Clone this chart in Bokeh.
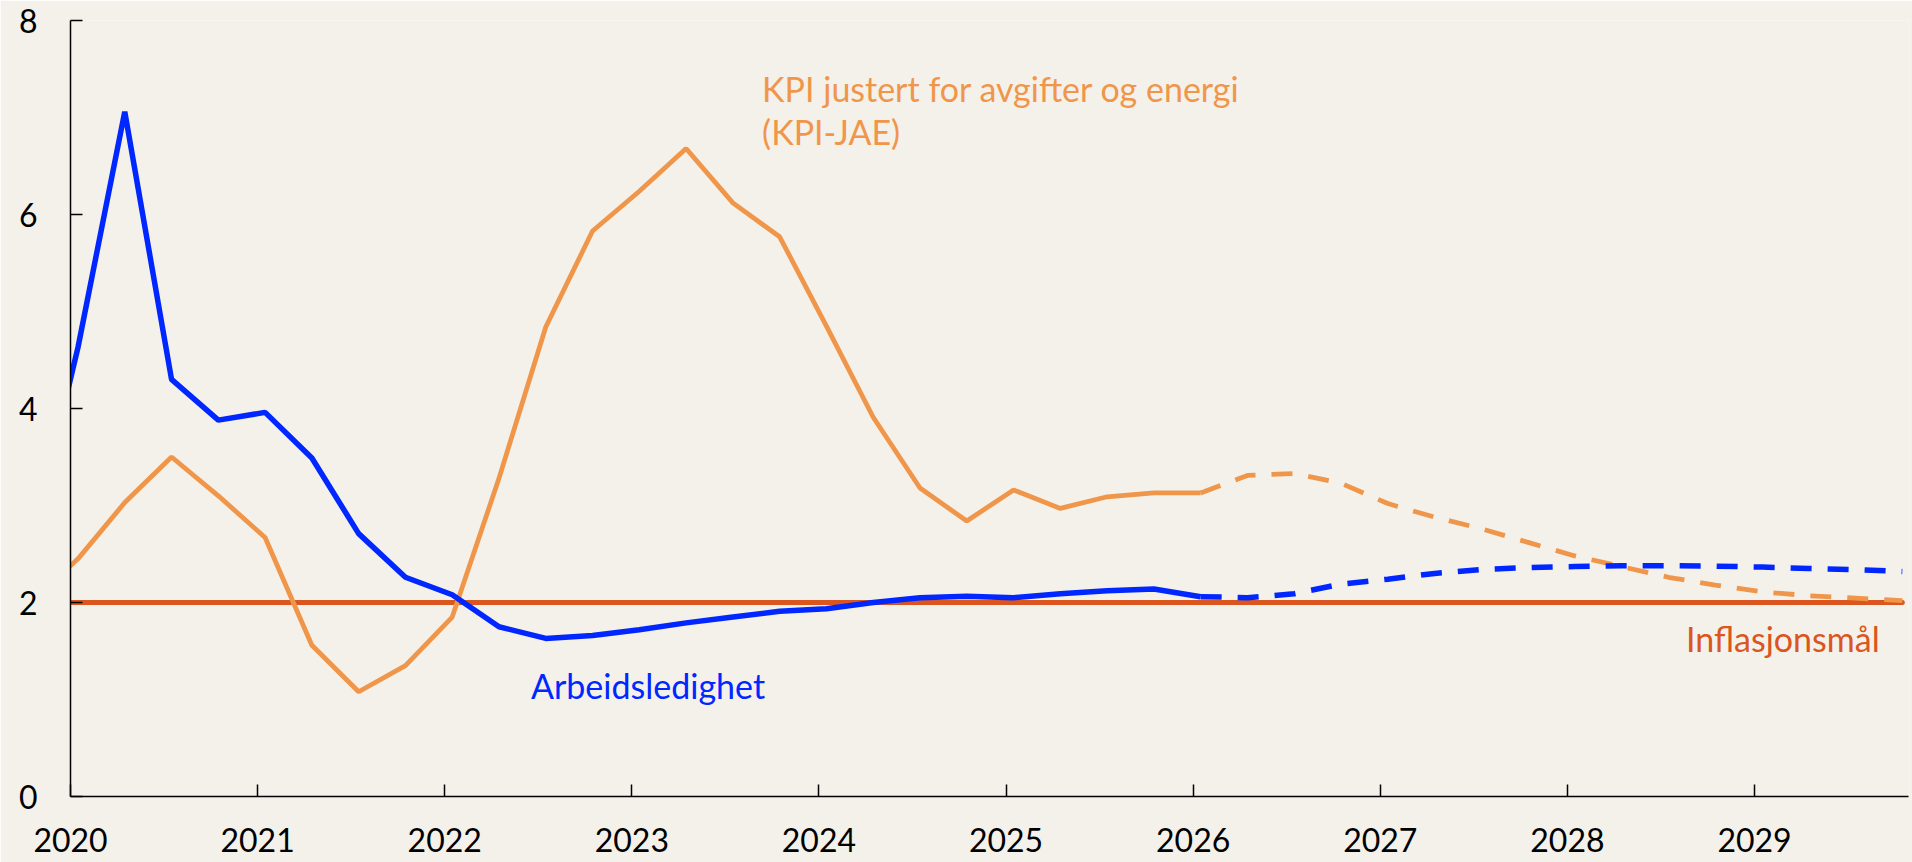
from bokeh.plotting import figure
from bokeh.models import FixedTicker, Label, Range1d, NumeralTickFormatter
from bokeh.embed import file_html
from bokeh.resources import INLINE

# ---------------- data ----------------
quarters = [f"{y}Q{q}" for y in range(2019, 2030) for q in (1, 2, 3, 4)][3:]  # 2019Q4 .. 2029Q4

unemployment = [2.60, 4.63, 7.06, 4.30, 3.88, 3.96, 3.49, 2.71, 2.26, 2.08,
                1.75, 1.63, 1.66, 1.72, 1.79, 1.85, 1.91, 1.935, 2.00, 2.05,
                2.065, 2.05, 2.09, 2.12, 2.14, 2.06, 2.05, 2.09, 2.19, 2.24,
                2.30, 2.34, 2.36, 2.37, 2.38, 2.38, 2.375, 2.365, 2.35, 2.34,
                2.32]

kpi_jae = [2.00, 2.45, 3.03, 3.50, 3.10, 2.67, 1.56, 1.08, 1.35, 1.85,
           3.28, 4.84, 5.83, 6.24, 6.68, 6.12, 5.77, 4.85, 3.91, 3.18,
           2.84, 3.16, 2.97, 3.09, 3.13, 3.13, 3.31, 3.33, 3.23, 3.02,
           2.88, 2.76, 2.62, 2.48, 2.37, 2.26, 2.18, 2.11, 2.07, 2.045,
           2.02]

inflation_target = [2.0] * len(quarters)

last_actual = "2026Q1"
x_ticks = [2020, 2021, 2022, 2023, 2024, 2025, 2026, 2027, 2028, 2029]
y_ticks = [0, 2, 4, 6, 8]

label_kpi = ["KPI justert for avgifter og energi", "(KPI-JAE)"]
label_unemp = "Arbeidsledighet"
label_target = "Inflasjonsmål"

# ---------------- styling ----------------
BG = "#F4F1EA"
BLUE = "#0027FF"
ORANGE = "#F0964A"
RED = "#DA561E"
FONT = "Lato"
FS = "32px"
FS_ANN = "34px"


def qpos(q):
    return int(q[:4]) + (int(q[5]) - 1) / 4 + 0.04


xs = [qpos(q) for q in quarters]
k = quarters.index(last_actual)

p = figure(width=1912, height=862,
           x_range=Range1d(2020, 2029.823), y_range=Range1d(0, 8),
           output_backend="svg", toolbar_location=None,
           min_border_left=70, min_border_right=4,
           min_border_top=20, min_border_bottom=66)
p.background_fill_color = BG
p.border_fill_color = BG
p.outline_line_color = None
p.grid.visible = False

# inflation target
p.line(xs, inflation_target, line_color=RED, line_width=5, line_cap="round")

# KPI-JAE
p.line(xs[:k + 1], kpi_jae[:k + 1], line_color=ORANGE, line_width=4.8)
p.line(xs[k:], kpi_jae[k:], line_color=ORANGE, line_width=4.8, line_dash="21 16")

# Unemployment
p.line(xs[:k + 1], unemployment[:k + 1], line_color=BLUE, line_width=5.5)
p.line(xs[k:], unemployment[k:], line_color=BLUE, line_width=5.5, line_dash="21 16")

# axes
for ax in (p.xaxis[0], p.yaxis[0]):
    ax.axis_line_color = "black"
    ax.axis_line_width = 1.5
    ax.major_tick_line_color = "black"
    ax.major_tick_line_width = 1.5
    ax.major_tick_in = 12
    ax.major_tick_out = 0
    ax.minor_tick_in = 0
    ax.minor_tick_out = 0
    ax.major_label_text_font = FONT
    ax.major_label_text_font_size = FS
    ax.major_label_text_color = "black"

p.xaxis[0].ticker = FixedTicker(ticks=x_ticks)
p.xaxis[0].formatter = NumeralTickFormatter(format="0")
p.xaxis[0].major_label_standoff = 31
p.yaxis[0].ticker = FixedTicker(ticks=y_ticks)
p.yaxis[0].formatter = NumeralTickFormatter(format="0")
p.yaxis[0].major_label_standoff = 33

# annotations
dy = 0.14
for i, t in enumerate(label_kpi):
    p.add_layout(Label(x=2023.696, y=7.158 + dy - i * 0.447, text=t, text_font=FONT,
                       text_font_size=FS_ANN, text_color=ORANGE,
                       text_align="left", text_baseline="alphabetic"))
p.add_layout(Label(x=2022.461, y=1.007 + dy, text=label_unemp, text_font=FONT,
                   text_font_size=FS_ANN, text_color=BLUE,
                   text_align="left", text_baseline="alphabetic"))
p.add_layout(Label(x=2028.634, y=1.488 + dy, text=label_target, text_font=FONT,
                   text_font_size=FS_ANN, text_color=RED,
                   text_align="left", text_baseline="alphabetic"))

open("out.html", "w").write(file_html(p, INLINE))
